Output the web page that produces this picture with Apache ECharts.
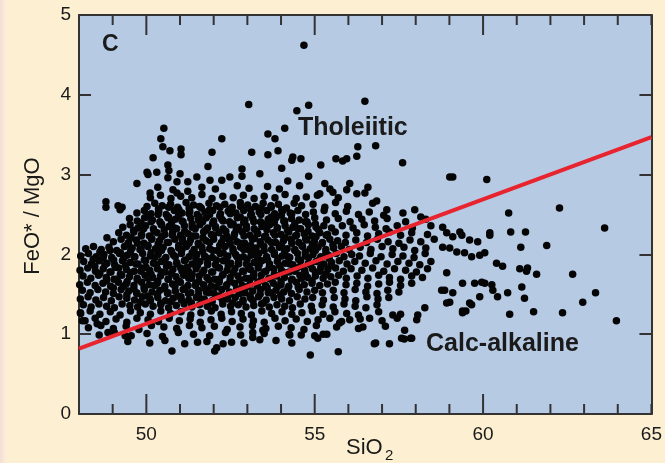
<!DOCTYPE html>
<html>
<head>
<meta charset="utf-8">
<script src="https://cdn.jsdelivr.net/npm/echarts@6/dist/echarts.min.js"></script>
<style>
  html, body { margin: 0; padding: 0; background: #fdf0d2; }
  #chart { width: 665px; height: 463px; }
</style>
</head>
<body>
<div id="chart"></div>
<script>
// Axis ranges and tick values
const siO2Range = [48, 65];
const ratioRange = [0, 5];
const siO2TickValues = [48, 49, 50, 51, 52, 53, 54, 55, 56, 57, 58, 59, 60, 61, 62, 63, 64, 65];
const siO2MajorTicks = [50, 55, 60];
const siO2LabelStep = 5;

// Tholeiitic / calc-alkaline dividing line (SiO2, FeO*/MgO)
const dividerSiO2 = [48, 65];
const dividerRatio = [0.82, 3.47];

// Samples [SiO2 wt%, FeO*/MgO], grouped by part of the cloud
const upperBand = [
  [50.12,2.71],[50.42,2.74],[50.73,2.70],[51.02,2.73],[51.35,2.71],[51.65,2.75],[51.95,2.70],[52.27,2.73],[52.58,2.71],[52.88,2.74],[53.20,2.70],[53.50,2.73],[53.82,2.71],[54.12,2.75],[54.45,2.70],[54.75,2.72],[55.08,2.74],[55.70,2.71],
  [51.65,2.84],[52.05,2.82],[52.70,2.86],[53.05,2.83],[53.60,2.85],[53.95,2.82],[54.55,2.86],
  [50.02,2.60],[50.25,2.64],[50.47,2.61],[50.72,2.63],[50.93,2.59],[51.18,2.65],[51.40,2.62],[51.63,2.58],[51.86,2.64],[52.08,2.61],[52.33,2.63],[52.55,2.59],[52.79,2.65],[53.01,2.62],[53.24,2.60],[53.47,2.64],[53.70,2.61],[53.92,2.63],[54.16,2.58],[54.39,2.64],[54.61,2.61],[54.95,2.63],[55.30,2.59],[55.62,2.65],[55.98,2.60],
  [49.72,2.52],[49.94,2.55],[50.14,2.51],[50.37,2.54],[50.59,2.50],[50.83,2.55],[51.06,2.52],[51.29,2.54],[51.51,2.50],[51.74,2.53],[51.97,2.55],[52.20,2.51],[52.43,2.54],[52.66,2.52],[52.89,2.55],[53.12,2.50],[53.35,2.53],[53.58,2.55],[53.81,2.51],[54.04,2.54],[54.27,2.52],[54.50,2.55],[54.73,2.50],[54.96,2.53],[55.28,2.55],[55.61,2.51],[55.94,2.54],[56.30,2.50],[56.62,2.53],[57.05,2.49],[57.62,2.52],[58.15,2.47],
  [49.50,2.45],[49.73,2.42],[49.95,2.46],[50.18,2.43],[50.40,2.41],[50.64,2.46],[50.86,2.44],[51.09,2.41],[51.32,2.45],[51.55,2.43],[51.78,2.46],[52.00,2.42],[52.24,2.44],[52.47,2.41],[52.70,2.46],[52.93,2.43],[53.16,2.45],[53.39,2.41],[53.62,2.44],[53.85,2.46],[54.08,2.42],[54.31,2.45],[54.54,2.43],[54.77,2.41],[55.00,2.46],[55.35,2.43],[55.70,2.45],[56.05,2.41],[56.40,2.44],[56.78,2.42],[57.15,2.45],[57.70,2.41],[58.30,2.44],
  [49.30,2.34],[49.52,2.37],[49.75,2.33],[49.98,2.36],[50.21,2.32],[50.44,2.37],[50.67,2.35],[50.90,2.32],[51.13,2.36],[51.36,2.34],[51.59,2.37],[51.82,2.33],[52.05,2.35],[52.28,2.32],[52.51,2.37],[52.74,2.34],[52.97,2.36],[53.20,2.32],[53.43,2.35],[53.66,2.37],[53.89,2.33],[54.12,2.36],[54.35,2.34],[54.58,2.32],[54.81,2.37],[55.04,2.34],[55.27,2.36],[55.50,2.33],[55.82,2.36],[56.14,2.33],[56.47,2.37],[56.80,2.34],[57.12,2.32],[57.45,2.36],[57.90,2.33],[58.45,2.36]
];

const middleBand = [
  [49.18,2.27],[49.41,2.24],[49.63,2.28],[49.86,2.25],[50.09,2.23],[50.32,2.27],[50.55,2.25],[50.78,2.28],[51.01,2.24],[51.24,2.26],[51.47,2.23],[51.70,2.28],[51.93,2.25],[52.16,2.27],[52.39,2.23],[52.62,2.26],[52.85,2.28],[53.08,2.24],[53.31,2.26],[53.54,2.23],[53.77,2.27],[54.00,2.25],[54.23,2.28],[54.46,2.24],[54.69,2.26],[54.92,2.23],[55.15,2.27],[55.38,2.25],[55.61,2.28],[55.93,2.24],[56.25,2.27],[56.57,2.23],[56.90,2.26],[57.22,2.28],[57.55,2.24],[57.88,2.27],[58.35,2.25],
  [49.02,2.16],[49.25,2.19],[49.47,2.15],[49.70,2.18],[49.93,2.14],[50.16,2.19],[50.39,2.17],[50.62,2.15],[50.85,2.19],[51.08,2.16],[51.31,2.18],[51.54,2.14],[51.77,2.17],[52.00,2.19],[52.23,2.15],[52.46,2.18],[52.69,2.16],[52.92,2.14],[53.15,2.19],[53.38,2.16],[53.61,2.18],[53.84,2.15],[54.07,2.17],[54.30,2.19],[54.53,2.15],[54.76,2.18],[54.99,2.16],[55.22,2.14],[55.45,2.19],[55.68,2.17],[55.91,2.15],[56.22,2.18],[56.54,2.15],[56.86,2.19],[57.18,2.16],[57.50,2.14],[57.83,2.18],[58.15,2.16],[58.55,2.19],
  [48.20,2.07],[48.43,2.10],[48.66,2.06],[48.89,2.09],[49.12,2.05],[49.35,2.10],[49.58,2.08],[49.81,2.06],[50.04,2.10],[50.27,2.07],[50.50,2.09],[50.73,2.05],[50.96,2.08],[51.19,2.10],[51.42,2.06],[51.65,2.09],[51.88,2.07],[52.11,2.05],[52.34,2.10],[52.57,2.07],[52.80,2.09],[53.03,2.06],[53.26,2.08],[53.49,2.10],[53.72,2.06],[53.95,2.09],[54.18,2.07],[54.41,2.05],[54.64,2.10],[54.87,2.07],[55.10,2.09],[55.33,2.06],[55.56,2.08],[55.79,2.10],[56.02,2.06],[56.35,2.09],[56.67,2.06],[57.00,2.10],[57.32,2.07],[57.65,2.09],[57.97,2.05],[58.30,2.08],
  [48.05,1.98],[48.28,2.01],[48.51,1.97],[48.74,2.00],[48.97,1.96],[49.20,2.01],[49.43,1.99],[49.66,1.97],[49.89,2.01],[50.12,1.98],[50.35,2.00],[50.58,1.96],[50.81,1.99],[51.04,2.01],[51.27,1.97],[51.50,2.00],[51.73,1.98],[51.96,1.96],[52.19,2.01],[52.42,1.98],[52.65,2.00],[52.88,1.97],[53.11,1.99],[53.34,2.01],[53.57,1.97],[53.80,2.00],[54.03,1.98],[54.26,1.96],[54.49,2.01],[54.72,1.98],[54.95,2.00],[55.18,1.97],[55.41,1.99],[55.64,2.01],[55.87,1.97],[56.10,2.00],[56.33,1.98],[56.65,2.01],[56.97,1.97],[57.30,2.00],[57.62,1.98],[57.95,1.96],[58.28,2.01],
  [48.14,1.91],[48.37,1.88],[48.60,1.92],[48.83,1.89],[49.06,1.87],[49.29,1.92],[49.52,1.90],[49.75,1.88],[49.98,1.92],[50.21,1.89],[50.44,1.91],[50.67,1.87],[50.90,1.90],[51.13,1.92],[51.36,1.88],[51.59,1.91],[51.82,1.89],[52.05,1.87],[52.28,1.92],[52.51,1.89],[52.74,1.91],[52.97,1.88],[53.20,1.90],[53.43,1.92],[53.66,1.88],[53.89,1.91],[54.12,1.89],[54.35,1.87],[54.58,1.92],[54.81,1.89],[55.04,1.91],[55.27,1.88],[55.50,1.90],[55.73,1.92],[55.96,1.88],[56.19,1.91],[56.50,1.89],[56.82,1.92],[57.15,1.88],[57.47,1.91],[57.80,1.89],[58.12,1.87],[58.45,1.91],
  [48.03,1.80],[48.26,1.83],[48.49,1.79],[48.72,1.82],[48.95,1.78],[49.18,1.83],[49.41,1.81],[49.64,1.79],[49.87,1.83],[50.10,1.80],[50.33,1.82],[50.56,1.78],[50.79,1.81],[51.02,1.83],[51.25,1.79],[51.48,1.82],[51.71,1.80],[51.94,1.78],[52.17,1.83],[52.40,1.80],[52.63,1.82],[52.86,1.79],[53.09,1.81],[53.32,1.83],[53.55,1.79],[53.78,1.82],[54.01,1.80],[54.24,1.78],[54.47,1.83],[54.70,1.80],[54.93,1.82],[55.16,1.79],[55.39,1.81],[55.62,1.83],[55.85,1.79],[56.08,1.82],[56.40,1.80],[56.72,1.83],[57.05,1.79],[57.37,1.82],[57.70,1.80],[58.02,1.78],[58.35,1.82]
];

const lowerBand = [
  [48.12,1.73],[48.35,1.70],[48.58,1.74],[48.81,1.71],[49.04,1.69],[49.27,1.74],[49.50,1.72],[49.73,1.70],[49.96,1.74],[50.19,1.71],[50.42,1.73],[50.65,1.69],[50.88,1.72],[51.11,1.74],[51.34,1.70],[51.57,1.73],[51.80,1.71],[52.03,1.69],[52.26,1.74],[52.49,1.71],[52.72,1.73],[52.95,1.70],[53.18,1.72],[53.41,1.74],[53.64,1.70],[53.87,1.73],[54.10,1.71],[54.33,1.69],[54.56,1.74],[54.79,1.71],[55.02,1.73],[55.25,1.70],[55.48,1.72],[55.71,1.74],[55.94,1.70],[56.26,1.73],[56.58,1.70],[56.90,1.74],[57.22,1.71],[57.55,1.69],[57.88,1.73],[58.20,1.71],
  [48.02,1.62],[48.25,1.65],[48.48,1.61],[48.71,1.64],[48.94,1.60],[49.17,1.65],[49.40,1.63],[49.63,1.61],[49.86,1.65],[50.09,1.62],[50.32,1.64],[50.55,1.60],[50.78,1.63],[51.01,1.65],[51.24,1.61],[51.47,1.64],[51.70,1.62],[51.93,1.60],[52.16,1.65],[52.39,1.62],[52.62,1.64],[52.85,1.61],[53.08,1.63],[53.31,1.65],[53.54,1.61],[53.77,1.64],[54.00,1.62],[54.23,1.60],[54.46,1.65],[54.69,1.62],[54.92,1.64],[55.15,1.61],[55.38,1.63],[55.61,1.65],[55.93,1.62],[56.25,1.64],[56.57,1.60],[56.90,1.63],[57.22,1.65],[57.55,1.61],[57.88,1.64],
  [48.10,1.55],[48.33,1.52],[48.56,1.56],[48.79,1.53],[49.02,1.51],[49.25,1.56],[49.48,1.54],[49.71,1.52],[49.94,1.56],[50.17,1.53],[50.40,1.55],[50.63,1.51],[50.86,1.54],[51.09,1.56],[51.32,1.52],[51.55,1.55],[51.78,1.53],[52.01,1.51],[52.24,1.56],[52.47,1.53],[52.70,1.55],[52.93,1.52],[53.16,1.54],[53.39,1.56],[53.62,1.52],[53.85,1.55],[54.08,1.53],[54.31,1.51],[54.54,1.56],[54.77,1.53],[55.00,1.55],[55.23,1.52],[55.55,1.55],[55.87,1.52],[56.20,1.56],[56.52,1.53],[56.85,1.51],[57.17,1.55],[57.50,1.53],
  [48.04,1.44],[48.27,1.47],[48.50,1.43],[48.73,1.46],[48.96,1.42],[49.19,1.47],[49.42,1.45],[49.65,1.43],[49.88,1.47],[50.11,1.44],[50.34,1.46],[50.57,1.42],[50.80,1.45],[51.03,1.47],[51.26,1.43],[51.49,1.46],[51.72,1.44],[51.95,1.42],[52.18,1.47],[52.41,1.44],[52.64,1.46],[52.87,1.43],[53.10,1.45],[53.33,1.47],[53.56,1.43],[53.79,1.46],[54.02,1.44],[54.25,1.42],[54.48,1.47],[54.71,1.44],[54.94,1.46],[55.26,1.43],[55.58,1.46],[55.90,1.44],[56.22,1.42],[56.55,1.47],[56.88,1.44],[57.20,1.46],
  [48.13,1.37],[48.36,1.34],[48.59,1.38],[48.82,1.35],[49.05,1.33],[49.28,1.38],[49.51,1.36],[49.74,1.34],[49.97,1.38],[50.20,1.35],[50.43,1.37],[50.66,1.33],[50.89,1.36],[51.12,1.38],[51.35,1.34],[51.58,1.37],[51.81,1.35],[52.04,1.33],[52.27,1.38],[52.50,1.35],[52.73,1.37],[52.96,1.34],[53.19,1.36],[53.42,1.38],[53.65,1.34],[53.88,1.37],[54.11,1.35],[54.34,1.33],[54.57,1.38],[54.90,1.35],[55.22,1.37],[55.55,1.34],[55.87,1.38],[56.20,1.35],[56.52,1.33],[56.85,1.37],
  [48.05,1.26],[48.33,1.29],[48.62,1.25],[48.93,1.28],[49.22,1.24],[49.53,1.29],[49.82,1.27],[50.12,1.25],[50.43,1.29],[50.72,1.26],[51.03,1.28],[51.32,1.24],[51.62,1.27],[51.93,1.29],[52.22,1.25],[52.53,1.28],[52.82,1.26],[53.12,1.24],[53.43,1.29],[53.72,1.26],[54.03,1.28],[54.32,1.25],[54.62,1.27],[54.93,1.29],[55.25,1.25],[55.60,1.28],[55.95,1.26],[56.30,1.24],[56.90,1.28],[57.55,1.25],
  [48.18,1.17],[48.48,1.20],[48.80,1.16],[49.10,1.19],[49.42,1.15],[49.72,1.20],[50.05,1.18],[50.36,1.16],[50.68,1.20],[50.98,1.17],[51.30,1.19],[51.60,1.15],[51.92,1.18],[52.24,1.20],[52.55,1.16],[52.87,1.19],[53.18,1.17],[53.50,1.15],[53.82,1.20],[54.12,1.17],[54.45,1.19],[54.78,1.16],[55.10,1.18],[55.45,1.20],[55.80,1.16],[56.35,1.19],[57.00,1.17],[57.45,1.20],
  [48.28,1.08],[48.65,1.11],[49.02,1.07],[49.40,1.10],[49.78,1.06],[50.15,1.11],[50.52,1.09],[50.90,1.07],[51.28,1.11],[51.65,1.08],[52.02,1.10],[52.40,1.06],[52.78,1.09],[53.15,1.11],[53.55,1.07],[53.92,1.10],[54.30,1.08],[54.68,1.06],[55.05,1.11],[55.65,1.09],[56.30,1.07],[57.10,1.10],
  [48.60,0.99],[49.05,1.02],[49.55,0.98],[50.02,1.01],[50.48,0.97],[50.95,1.02],[51.40,1.00],[51.88,0.98],[52.35,1.02],[52.80,0.99],[53.50,1.01],[54.60,0.99],
  [49.45,0.91],[50.10,0.89],[50.55,0.92],[51.80,0.91],[52.90,0.89],[53.85,0.92]
];

// Densest part of the basalt-andesite cluster
const coreFill = [
  [50.36,2.57],[50.66,2.59],[50.97,2.56],[51.27,2.58],[51.58,2.60],[51.88,2.56],[52.19,2.59],[52.49,2.57],[52.80,2.60],[53.10,2.56],[53.41,2.58],[53.71,2.59],[54.02,2.56],
  [50.05,2.48],[50.35,2.50],[50.66,2.47],[50.96,2.49],[51.27,2.51],[51.57,2.47],[51.88,2.50],[52.18,2.48],[52.49,2.51],[52.79,2.47],[53.10,2.49],[53.40,2.50],[53.71,2.47],[54.01,2.49],[54.32,2.51],
  [49.84,2.39],[50.14,2.41],[50.45,2.38],[50.75,2.40],[51.06,2.42],[51.36,2.38],[51.67,2.41],[51.97,2.39],[52.28,2.42],[52.58,2.38],[52.89,2.40],[53.19,2.41],[53.50,2.38],[53.80,2.40],[54.11,2.42],[54.41,2.39],[54.72,2.41],[55.02,2.38],
  [49.62,2.30],[49.92,2.32],[50.23,2.29],[50.53,2.31],[50.84,2.33],[51.14,2.29],[51.45,2.32],[51.75,2.30],[52.06,2.33],[52.36,2.29],[52.67,2.31],[52.97,2.32],[53.28,2.29],[53.58,2.31],[53.89,2.33],[54.19,2.30],[54.50,2.32],[54.80,2.29],[55.11,2.31],
  [49.55,2.21],[49.85,2.23],[50.16,2.20],[50.46,2.22],[50.77,2.24],[51.07,2.20],[51.38,2.23],[51.68,2.21],[51.99,2.24],[52.29,2.20],[52.60,2.22],[52.90,2.23],[53.21,2.20],[53.51,2.22],[53.82,2.24],[54.12,2.21],[54.43,2.23],[54.73,2.20],[55.04,2.22],[55.34,2.24],
  [49.44,2.12],[49.74,2.14],[50.05,2.11],[50.35,2.13],[50.66,2.15],[50.96,2.11],[51.27,2.14],[51.57,2.12],[51.88,2.15],[52.18,2.11],[52.49,2.13],[52.79,2.14],[53.10,2.11],[53.40,2.13],[53.71,2.15],[54.01,2.12],[54.32,2.14],[54.62,2.11],[54.93,2.13],[55.23,2.15],[55.54,2.12],
  [48.62,2.03],[48.92,2.05],[49.23,2.02],[49.53,2.04],[49.84,2.06],[50.14,2.02],[50.45,2.05],[50.75,2.03],[51.06,2.06],[51.36,2.02],[51.67,2.04],[51.97,2.05],[52.28,2.02],[52.58,2.04],[52.89,2.06],[53.19,2.03],[53.50,2.05],[53.80,2.02],[54.11,2.04],[54.41,2.06],[54.72,2.03],[55.02,2.05],[55.33,2.02],
  [48.42,1.94],[48.72,1.96],[49.03,1.93],[49.33,1.95],[49.64,1.97],[49.94,1.93],[50.25,1.96],[50.55,1.94],[50.86,1.97],[51.16,1.93],[51.47,1.95],[51.77,1.96],[52.08,1.93],[52.38,1.95],[52.69,1.97],[52.99,1.94],[53.30,1.96],[53.60,1.93],[53.91,1.95],[54.21,1.97],[54.52,1.94],[54.82,1.96],[55.13,1.93],[55.43,1.95],
  [48.47,1.85],[48.77,1.87],[49.08,1.84],[49.38,1.86],[49.69,1.88],[49.99,1.84],[50.30,1.87],[50.60,1.85],[50.91,1.88],[51.21,1.84],[51.52,1.86],[51.82,1.87],[52.13,1.84],[52.43,1.86],[52.74,1.88],[53.04,1.85],[53.35,1.87],[53.65,1.84],[53.96,1.86],[54.26,1.88],[54.57,1.85],[54.87,1.87],[55.18,1.84],[55.48,1.86],
  [48.62,1.76],[48.92,1.78],[49.23,1.75],[49.53,1.77],[49.84,1.79],[50.14,1.75],[50.45,1.78],[50.75,1.76],[51.06,1.79],[51.36,1.75],[51.67,1.77],[51.97,1.78],[52.28,1.75],[52.58,1.77],[52.89,1.79],[53.19,1.76],[53.50,1.78],[53.80,1.75],[54.11,1.77],[54.41,1.79],[54.72,1.76],[55.02,1.78],[55.33,1.75],
  [48.82,1.67],[49.12,1.69],[49.43,1.66],[49.73,1.68],[50.04,1.70],[50.34,1.66],[50.65,1.69],[50.95,1.67],[51.26,1.70],[51.56,1.66],[51.87,1.68],[52.17,1.69],[52.48,1.66],[52.78,1.68],[53.09,1.70],[53.39,1.67],[53.70,1.69],[54.00,1.66],[54.31,1.68],[54.61,1.70],[54.92,1.67],
  [49.02,1.58],[49.32,1.60],[49.63,1.57],[49.93,1.59],[50.24,1.61],[50.54,1.57],[50.85,1.60],[51.15,1.58],[51.46,1.61],[51.76,1.57],[52.07,1.59],[52.37,1.60],[52.68,1.57],[52.98,1.59],[53.29,1.61],[53.59,1.58],[53.90,1.60],[54.20,1.57],[54.51,1.59],
  [49.42,1.49],[49.72,1.51],[50.03,1.48],[50.33,1.50],[50.64,1.52],[50.94,1.48],[51.25,1.51],[51.55,1.49],[51.86,1.52],[52.16,1.48],[52.47,1.50],[52.77,1.51],[53.08,1.48],[53.38,1.50],[53.69,1.52],[53.99,1.49],
  [49.82,1.40],[50.12,1.42],[50.43,1.39],[50.73,1.41],[51.04,1.43],[51.34,1.39],[51.65,1.42],[51.95,1.40],[52.26,1.43],[52.56,1.39],[52.87,1.41],[53.17,1.42],[53.48,1.39]
];

const tholeiiticOutliers = [
  [54.68,4.62],[53.04,3.88],[54.82,3.87],[54.47,3.80],[56.49,3.92],
  [50.52,3.58],[50.43,3.45],[50.49,3.35],[50.70,3.30],[51.03,3.32],[51.03,3.25],[52.24,3.45],[51.95,3.28],[53.13,3.28],[53.61,3.51],[53.82,3.45],[53.61,3.25],[54.11,3.58],[53.91,3.30],[54.32,3.18],[54.35,3.22],[54.59,3.20],[54.02,3.08],[55.18,3.12],[55.63,3.20],[55.83,3.17],[55.95,3.20],[56.25,3.23],[56.28,3.35],[56.81,3.36],[57.61,3.15],
  [50.20,3.21],[50.64,3.12],[50.67,3.05],[50.02,3.03],[50.05,3.00],[50.31,3.03],[51.00,3.01],[51.83,3.10],[52.84,3.07],[52.84,2.98],[53.37,3.01],
  [49.72,2.89],[50.34,2.84],[50.64,2.96],[50.91,2.91],[51.23,2.91],[51.50,2.97],[51.89,2.93],[52.24,2.93],[52.48,2.97],[50.79,2.81],[50.91,2.77],[51.23,2.79],[50.11,2.77],
  [54.20,2.92],[54.82,2.98],[55.30,2.89],[55.45,2.82],[55.54,2.78],[56.04,2.89],[56.58,2.84],[55.95,2.81],[56.25,2.76],[56.49,2.77],[55.15,2.76],[56.84,2.67],[56.72,2.64],[57.14,2.56],[57.97,2.56],
  [59.01,2.97],[59.10,2.97],[60.11,2.94],
  [48.80,2.66],[48.80,2.59],[49.16,2.61],[49.28,2.59],[49.22,2.56],[48.83,2.21]
];

const evolvedTail = [
  [62.27,2.58],[63.61,2.33],[60.76,2.52],[60.82,2.28],[61.26,2.28],[60.20,2.27],[60.20,2.24],[61.12,2.09],[61.89,2.11],[62.66,1.75],[63.34,1.52],[62.96,1.40],[63.96,1.17],[62.36,1.27],[61.50,1.28],[60.79,1.25],[61.23,1.45],[61.15,1.59],[61.59,1.75],[61.09,1.82],[61.29,1.79],[61.32,1.83],[60.73,1.52],[60.40,1.89],[60.58,1.85],[59.39,1.29],[59.39,1.27],[59.60,1.39],[59.66,1.37],
  [58.80,2.34],[58.92,2.27],[59.10,2.22],[59.31,2.28],[59.37,2.24],[59.60,2.18],[59.84,2.16],[58.80,2.09],[59.01,2.08],[59.22,2.03],[59.45,2.02],[59.66,1.97],[59.90,1.99],[60.05,2.02],[58.92,1.77],[59.39,1.64],[59.75,1.64],[59.96,1.65],[60.05,1.64],[60.26,1.62],[60.29,1.55],[60.43,1.47],[59.90,1.47],[59.10,1.52],[58.86,1.55],[59.01,1.40],[59.49,1.29]
];

const lowRatioSamples = [
  [50.76,0.79],[52.03,0.79],[52.09,0.83],[54.87,0.74],[55.70,0.78],[56.77,0.88],[57.22,0.88],[57.66,0.94],[57.85,0.95],[54.24,1.00],[55.00,0.98],[55.25,1.00],[51.14,0.88],[51.52,0.90],[52.28,0.88],[52.53,0.90],[53.16,0.96],[49.37,0.98],[48.86,1.02],[48.10,1.17],[48.04,1.27],[48.54,1.13],
  [54.26,0.99],[54.32,0.89],[55.09,0.95],[55.36,1.00],[56.81,0.89],[57.58,0.95],[57.67,1.05],[57.88,0.95],[58.03,1.18],[58.06,1.24],[58.27,1.33],[58.77,1.55],[58.92,1.39],[57.32,1.24],[56.63,1.20],[56.43,1.09],[56.04,1.18],[55.74,1.14],[53.46,1.05],[53.37,0.93],[53.16,1.02]
];

const FONT = '"Liberation Sans", Arial, Helvetica, sans-serif';
const INK = '#1a1a1a';
const FRAME = '#333333';
const LINE_W = 2;

function xAxisDef(position, withLabels) {
  return {
    type: 'value', position: position, min: siO2Range[0], max: siO2Range[1], interval: 1,
    axisLine: { show: true, onZero: false, lineStyle: { color: FRAME, width: LINE_W } },
    axisTick: { show: false },
    axisLabel: withLabels
      ? { show: true, margin: 11, fontFamily: FONT, fontSize: 19, color: INK,
          formatter: v => (v % siO2LabelStep === 0 ? String(v) : '') }
      : { show: false },
    splitLine: { show: false }
  };
}
function yAxisDef(position, withLabels) {
  return {
    type: 'value', position: position, min: ratioRange[0], max: ratioRange[1], interval: 1,
    axisLine: { show: true, onZero: false, lineStyle: { color: FRAME, width: LINE_W } },
    axisTick: { show: true, inside: true, length: 12, lineStyle: { color: FRAME, width: LINE_W } },
    axisLabel: withLabels
      ? { show: true, margin: 8, fontFamily: FONT, fontSize: 19, color: INK }
      : { show: false },
    splitLine: { show: false }
  };
}

function dots(data) {
  return {
    type: 'scatter', xAxisIndex: 0, yAxisIndex: 0, data: data,
    symbol: 'circle', symbolSize: 7.5,
    itemStyle: { color: '#050505', opacity: 1 },
    silent: true, animation: false, clip: false, z: 3
  };
}

// Inward SiO2 ticks on the bottom and top frame edges (longer at 50, 55, 60)
function renderSiO2Tick(params, api) {
  const v = api.value(0);
  const len = siO2MajorTicks.indexOf(v) >= 0 ? 20 : 10;
  const bottom = api.coord([v, ratioRange[0]]);
  const top = api.coord([v, ratioRange[1]]);
  const w = LINE_W;
  return {
    type: 'group',
    children: [
      { type: 'rect', shape: { x: bottom[0] - w / 2, y: bottom[1] - len, width: w, height: len }, style: { fill: FRAME } },
      { type: 'rect', shape: { x: top[0] - w / 2, y: top[1], width: w, height: len }, style: { fill: FRAME } }
    ]
  };
}

const chart = echarts.init(document.getElementById('chart'), null, { renderer: 'canvas' });
chart.setOption({
  backgroundColor: '#fdf0d2',
  animation: false,
  grid: { left: 79, right: 13, top: 15, bottom: 49, show: true, backgroundColor: '#b6cae4', borderWidth: 0 },
  xAxis: [xAxisDef('bottom', true), xAxisDef('top', false)],
  yAxis: [yAxisDef('left', true), yAxisDef('right', false)],
  series: [
    dots(upperBand), dots(middleBand), dots(lowerBand), dots(coreFill),
    dots(tholeiiticOutliers), dots(evolvedTail), dots(lowRatioSamples),
    {
      type: 'line', xAxisIndex: 0, yAxisIndex: 0,
      data: dividerSiO2.map((x, i) => [x, dividerRatio[i]]),
      symbol: 'none', lineStyle: { color: '#e8242e', width: 4 }, silent: true, animation: false, z: 5
    },
    {
      type: 'custom', xAxisIndex: 0, yAxisIndex: 0,
      data: siO2TickValues.map(v => [v, ratioRange[0]]),
      encode: { x: 0, y: 1 },
      renderItem: renderSiO2Tick, clip: false, silent: true, animation: false, z: 20
    }
  ],
  graphic: [
    { type: 'rect', left: 0, top: 0, z: -1, shape: { width: 10, height: 463 },
      style: { fill: new echarts.graphic.LinearGradient(0, 0, 1, 0, [{ offset: 0, color: '#f4dcdc' }, { offset: 1, color: 'rgba(253,240,210,0)' }]) } },
    { type: 'text', x: 102, y: 45, z: 10, style: { text: 'C', font: 'bold 23px ' + FONT, fill: INK, verticalAlign: 'middle' } },
    { type: 'text', x: 298, y: 128, z: 10, style: { text: 'Tholeiitic', font: 'bold 25px ' + FONT, fill: INK, verticalAlign: 'middle' } },
    { type: 'text', x: 426, y: 344, z: 10, style: { text: 'Calc-alkaline', font: 'bold 25px ' + FONT, fill: INK, verticalAlign: 'middle' } },
    { type: 'text', x: 33, y: 216, rotation: Math.PI / 2, z: 10,
      style: { text: 'FeO* / MgO', font: '22px ' + FONT, fill: INK, align: 'center', verticalAlign: 'middle' } },
    { type: 'text', x: 346, y: 448, z: 10, style: { text: 'SiO', font: '22px ' + FONT, fill: INK, verticalAlign: 'middle' } },
    { type: 'text', x: 385, y: 456, z: 10, style: { text: '2', font: '15px ' + FONT, fill: INK, verticalAlign: 'middle' } }
  ]
});
</script>
</body>
</html>
